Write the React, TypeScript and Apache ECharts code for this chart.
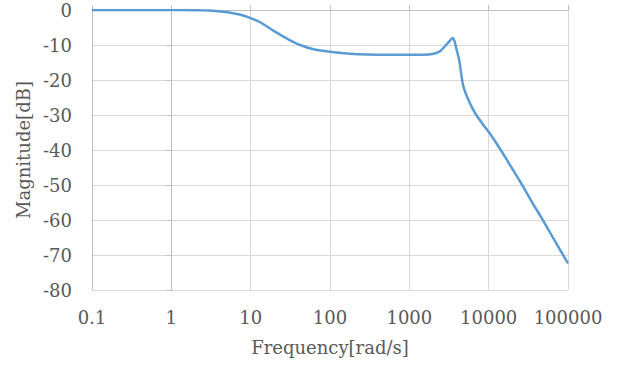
import React, { useEffect, useRef } from "react";
import * as echarts from "echarts";

const freq = [0.1, 1, 2, 3, 4.5, 6, 7.3, 10, 13.2, 19.3, 28.4, 42, 62, 100, 162, 300, 1000, 1500, 2030, 2460, 2985, 3300, 3515, 3700, 3910, 4250, 4500, 4810, 5560, 6760, 8600, 10000, 13300, 17800, 24900, 35000, 49000, 70000, 100000];
const magnitude = [0, 0, -0.05, -0.15, -0.5, -0.9, -1.3, -2.3, -3.5, -5.9, -8.1, -10.0, -11.2, -11.9, -12.4, -12.7, -12.8, -12.8, -12.5, -11.7, -9.7, -8.6, -8.0, -8.8, -11.0, -14.3, -18.1, -21.9, -25.7, -29.5, -32.9, -34.8, -39.0, -43.6, -49.0, -54.8, -60.3, -66.4, -72.4];

const xMin = 0.1;
const xMax = 100000;
const yMin = -80;
const yMax = 0;
const yStep = 10;

const FONT = "DejaVu Serif";
const TEXT = "#595959";
const GRID = "#d9d9d9";
const AXIS = "#bfbfbf";

function fmt(v: number) {
  return String(Number(Number(v).toPrecision(6)));
}

export default function App() {
  const ref = useRef<HTMLDivElement>(null);
  useEffect(() => {
    if (!ref.current) return;
    const chart = echarts.init(ref.current, undefined, { renderer: "svg" });
    const data = freq.map((f, i) => [f, magnitude[i]]);
    chart.setOption({
      animation: false,
      grid: { left: 92, right: 57, top: 10, bottom: 78, containLabel: false },
      xAxis: [
        {
          type: "log",
          logBase: 10,
          min: xMin,
          max: xMax,
          splitNumber: 6,
          position: "bottom",
          axisLine: { show: true, lineStyle: { color: GRID, width: 1 } },
          axisTick: { show: false },
          axisLabel: { formatter: fmt, color: TEXT, fontSize: 18, fontFamily: FONT, margin: 18 },
          splitLine: { show: true, lineStyle: { color: GRID, width: 1 } },
          name: "Frequency[rad/s]",
          nameLocation: "middle",
          nameGap: 48,
          nameTextStyle: { color: TEXT, fontSize: 18, fontFamily: FONT },
        },
        {
          type: "log",
          logBase: 10,
          min: xMin,
          max: xMax,
          splitNumber: 6,
          position: "top",
          axisLine: { show: true, lineStyle: { color: AXIS, width: 1 } },
          axisTick: { show: true, inside: false, length: 5, lineStyle: { color: AXIS } },
          axisLabel: { show: false },
          splitLine: { show: false },
        },
      ],
      yAxis: [
        {
          type: "value",
          min: yMin,
          max: yMax,
          interval: yStep,
          axisLine: { show: true, lineStyle: { color: AXIS, width: 1 } },
          axisTick: { show: false },
          axisLabel: { color: TEXT, fontSize: 18, fontFamily: FONT, margin: 20 },
          splitLine: { show: true, lineStyle: { color: GRID, width: 1 } },
          name: "Magnitude[dB]",
          nameLocation: "middle",
          nameGap: 57,
          nameRotate: 90,
          nameTextStyle: { color: TEXT, fontSize: 18, fontFamily: FONT },
        },
        {
          type: "value",
          min: yMin,
          max: yMax,
          interval: yStep,
          position: "left",
          offset: -79.3,
          axisLine: { show: true, lineStyle: { color: AXIS, width: 1 } },
          axisTick: { show: true, inside: false, length: 5, lineStyle: { color: AXIS } },
          axisLabel: { show: false },
          splitLine: { show: false },
        },
      ],
      series: [
        {
          type: "line",
          data,
          xAxisIndex: 0,
          yAxisIndex: 0,
          smooth: 0.35,
          symbol: "none",
          lineStyle: { color: "#5B9BD5", width: 2.5 },
        },
      ],
    });
    return () => chart.dispose();
  }, []);
  return <div ref={ref} style={{ width: 625, height: 368, position: "absolute", left: 0, top: 0 }} />;
}
